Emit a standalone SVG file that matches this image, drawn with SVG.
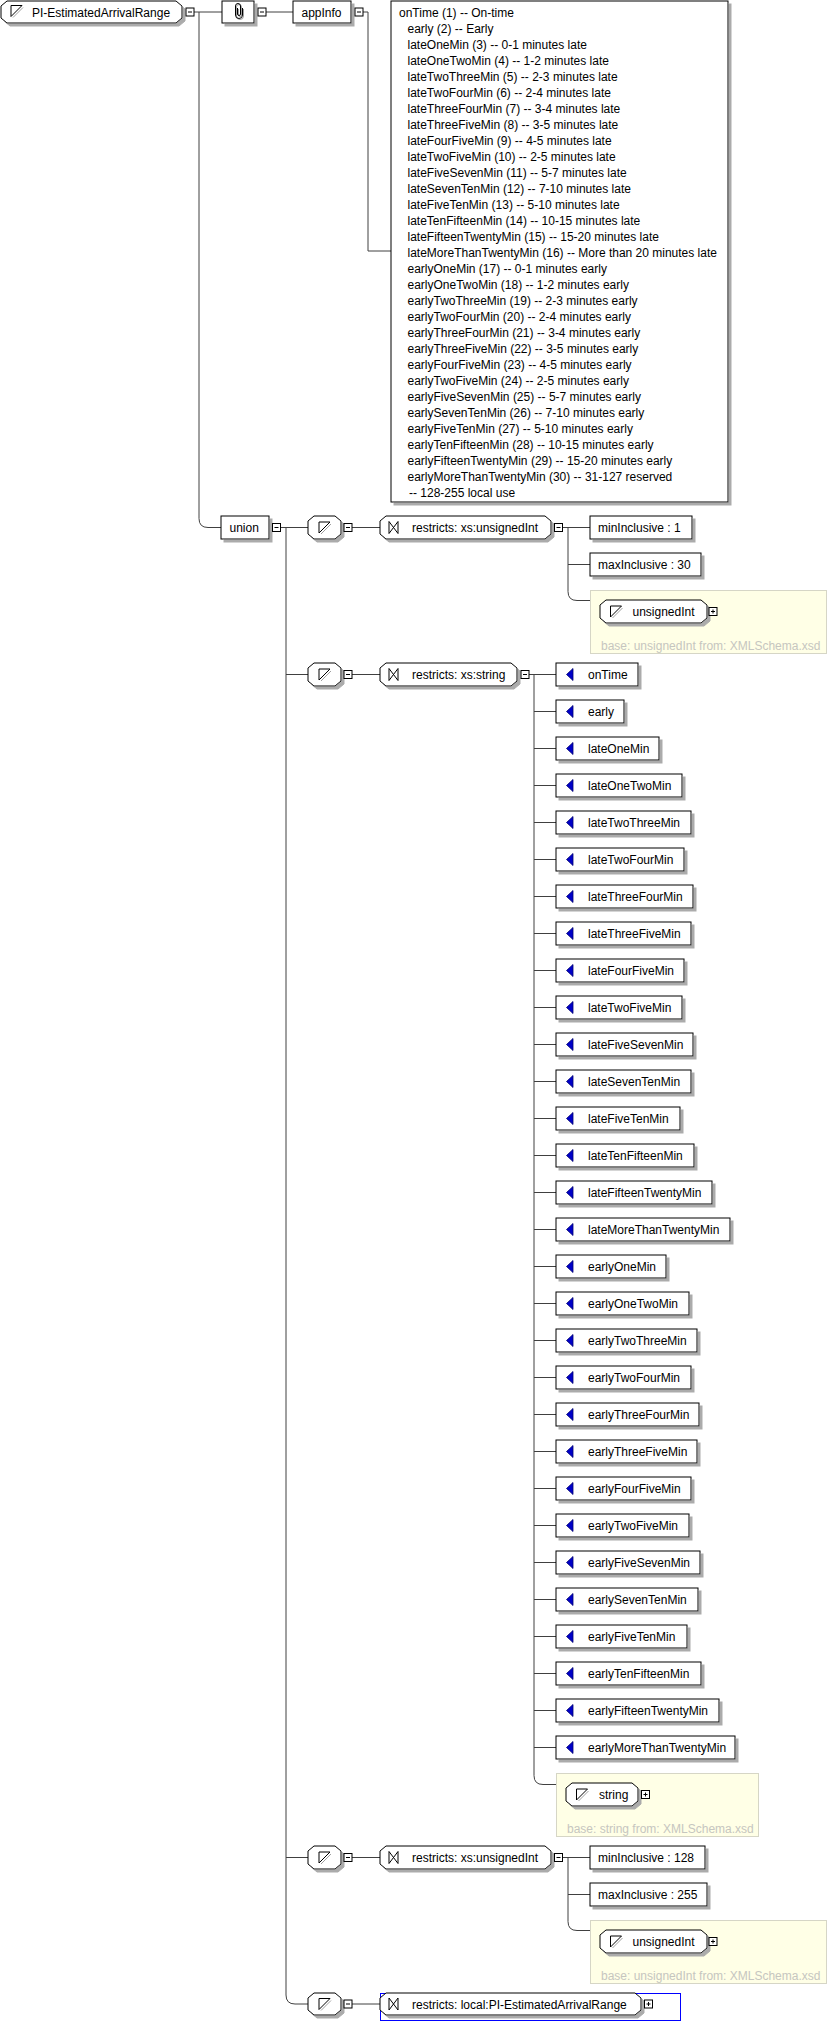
<svg xmlns="http://www.w3.org/2000/svg" xmlns:xlink="http://www.w3.org/1999/xlink" width="828" height="2022" viewBox="0 0 828 2022">
<style>
text{font-family:"Liberation Sans",Arial,sans-serif;font-size:12px;fill:#000}
.box{fill:#fff;stroke:#000;stroke-width:1;filter:url(#sh)}
.cn{fill:none;stroke:#404040;stroke-width:1}
.yl{fill:#ffffe6;stroke:#d6d6c6;stroke-width:1}
.base{fill:#c6c6c0}
</style>
<defs>
<filter id="sh" x="-10%" y="-30%" width="130%" height="170%">
<feOffset in="SourceAlpha" dx="3" dy="3" result="o"/>
<feFlood flood-color="#ababab"/>
<feComposite in2="o" operator="in" result="s"/>
<feMerge><feMergeNode in="s"/><feMergeNode in="SourceGraphic"/></feMerge>
</filter>
<g id="st"><path d="M6.5 -3.5 L-3.5 6.5" stroke="#a0a0a0" fill="none"/><path d="M-5.5 5.5 V-5.5 H5.5 Z" fill="none" stroke="#000"/></g>
<path id="rs" d="M0 -6 V6 L9 -6 V6 Z" fill="none" stroke="#000"/>
<path id="en" d="M17 5.5 L10.5 11.5 L17 17.5 Z" fill="#0000c8" stroke="#000070" stroke-width="0.8"/>
<g id="mi"><rect x="-4" y="-4" width="8" height="8" fill="#fff" stroke="#000"/><path d="M-2 0H2" stroke="#000"/></g>
<g id="pl"><rect x="-4" y="-4" width="8" height="8" fill="#fff" stroke="#000"/><path d="M-2 0H2M0 -2V2" stroke="#000"/></g>
</defs>

<g id="connectors" class="cn">
<path d="M194 12H222M199 12V518.5Q199 527.5 208 527.5H221M266 12H293M363 12H368V251H391"/>
<path d="M280.5 527.5H308M286 527.5V1995Q286 2004 295 2004H308M286 674.5H308M286 1857.5H308"/>
<path d="M352 527.5H380M352 674.5H380M352 1857.5H380M352 2004H380"/>
<path d="M562.5 527.5H590M568 527.5V591.5Q568 600.5 577 600.5H590M568 564.5H590"/>
<path d="M562.5 1857.5H590M568 1857.5V1921.5Q568 1930.5 577 1930.5H590M568 1894.5H590"/>
<path d="M529 674.5H556M534 674.5V1775.5Q534 1784.5 543 1784.5H556M534 711.5H556M534 748.5H556M534 785.5H556M534 822.5H556M534 859.5H556M534 896.5H556M534 933.5H556M534 970.5H556M534 1007.5H556M534 1044.5H556M534 1081.5H556M534 1118.5H556M534 1155.5H556M534 1192.5H556M534 1229.5H556M534 1266.5H556M534 1303.5H556M534 1340.5H556M534 1377.5H556M534 1414.5H556M534 1451.5H556M534 1488.5H556M534 1525.5H556M534 1562.5H556M534 1599.5H556M534 1636.5H556M534 1673.5H556M534 1710.5H556M534 1747.5H556"/>
</g>

<g id="root">
<polygon class="box" points="7,1 176,1 182,6 182,18 176,23 7,23 1,18 1,6"/>
<use xlink:href="#st" x="16.5" y="11"/>
<text x="32" y="16.5">PI-EstimatedArrivalRange</text>
<use xlink:href="#mi" x="190" y="12"/>
</g>

<g id="annotation">
<rect class="box" x="222" y="1" width="32" height="22"/>
<path d="M238.5 9 V15 a1.5 1.5 0 0 0 3 0 V7 a2.5 2.5 0 0 0 -5 0 V16 a3.5 3.5 0 0 0 7 0 V9" fill="none" stroke="#a0a0a0"/>
<path d="M237.5 8 V14 a1.5 1.5 0 0 0 3 0 V6 a2.5 2.5 0 0 0 -5 0 V15 a3.5 3.5 0 0 0 7 0 V8" fill="none" stroke="#000"/>
<use xlink:href="#mi" x="262" y="12"/>
</g>

<g id="appInfo">
<rect class="box" x="293" y="1" width="58" height="22"/>
<text x="301.5" y="16.5">appInfo</text>
<use xlink:href="#mi" x="359" y="12"/>
</g>

<g id="documentation">
<rect class="box" x="391" y="1" width="337" height="501"/>
<text x="399" y="16.5">onTime (1) -- On-time</text>
<text y="16.5">
<tspan x="407.5" dy="16">early (2) -- Early</tspan>
<tspan x="407.5" dy="16">lateOneMin (3) -- 0-1 minutes late</tspan>
<tspan x="407.5" dy="16">lateOneTwoMin (4) -- 1-2 minutes late</tspan>
<tspan x="407.5" dy="16">lateTwoThreeMin (5) -- 2-3 minutes late</tspan>
<tspan x="407.5" dy="16">lateTwoFourMin (6) -- 2-4 minutes late</tspan>
<tspan x="407.5" dy="16">lateThreeFourMin (7) -- 3-4 minutes late</tspan>
<tspan x="407.5" dy="16">lateThreeFiveMin (8) -- 3-5 minutes late</tspan>
<tspan x="407.5" dy="16">lateFourFiveMin (9) -- 4-5 minutes late</tspan>
<tspan x="407.5" dy="16">lateTwoFiveMin (10) -- 2-5 minutes late</tspan>
<tspan x="407.5" dy="16">lateFiveSevenMin (11) -- 5-7 minutes late</tspan>
<tspan x="407.5" dy="16">lateSevenTenMin (12) -- 7-10 minutes late</tspan>
<tspan x="407.5" dy="16">lateFiveTenMin (13) -- 5-10 minutes late</tspan>
<tspan x="407.5" dy="16">lateTenFifteenMin (14) -- 10-15 minutes late</tspan>
<tspan x="407.5" dy="16">lateFifteenTwentyMin (15) -- 15-20 minutes late</tspan>
<tspan x="407.5" dy="16">lateMoreThanTwentyMin (16) -- More than 20 minutes late</tspan>
<tspan x="407.5" dy="16">earlyOneMin (17) -- 0-1 minutes early</tspan>
<tspan x="407.5" dy="16">earlyOneTwoMin (18) -- 1-2 minutes early</tspan>
<tspan x="407.5" dy="16">earlyTwoThreeMin (19) -- 2-3 minutes early</tspan>
<tspan x="407.5" dy="16">earlyTwoFourMin (20) -- 2-4 minutes early</tspan>
<tspan x="407.5" dy="16">earlyThreeFourMin (21) -- 3-4 minutes early</tspan>
<tspan x="407.5" dy="16">earlyThreeFiveMin (22) -- 3-5 minutes early</tspan>
<tspan x="407.5" dy="16">earlyFourFiveMin (23) -- 4-5 minutes early</tspan>
<tspan x="407.5" dy="16">earlyTwoFiveMin (24) -- 2-5 minutes early</tspan>
<tspan x="407.5" dy="16">earlyFiveSevenMin (25) -- 5-7 minutes early</tspan>
<tspan x="407.5" dy="16">earlySevenTenMin (26) -- 7-10 minutes early</tspan>
<tspan x="407.5" dy="16">earlyFiveTenMin (27) -- 5-10 minutes early</tspan>
<tspan x="407.5" dy="16">earlyTenFifteenMin (28) -- 10-15 minutes early</tspan>
<tspan x="407.5" dy="16">earlyFifteenTwentyMin (29) -- 15-20 minutes early</tspan>
<tspan x="407.5" dy="16">earlyMoreThanTwentyMin (30) -- 31-127 reserved</tspan>
<tspan x="409" dy="16">-- 128-255 local use</tspan>
</text>
</g>

<g id="union">
<rect class="box" x="221" y="516" width="48" height="23"/>
<text x="229.5" y="532">union</text>
<use xlink:href="#mi" x="276.5" y="527.5"/>
</g>

<g id="simpleType1" transform="translate(0,527.5)">
<polygon class="box" points="314,-11.5 335,-11.5 341,-6.5 341,6.5 335,11.5 314,11.5 308,6.5 308,-6.5"/>
<use xlink:href="#st" x="324.5" y="0"/>
<use xlink:href="#mi" x="348" y="0"/>
</g>
<g id="simpleType2" transform="translate(0,674.5)">
<polygon class="box" points="314,-11.5 335,-11.5 341,-6.5 341,6.5 335,11.5 314,11.5 308,6.5 308,-6.5"/>
<use xlink:href="#st" x="324.5" y="0"/>
<use xlink:href="#mi" x="348" y="0"/>
</g>
<g id="simpleType3" transform="translate(0,1857.5)">
<polygon class="box" points="314,-11.5 335,-11.5 341,-6.5 341,6.5 335,11.5 314,11.5 308,6.5 308,-6.5"/>
<use xlink:href="#st" x="324.5" y="0"/>
<use xlink:href="#mi" x="348" y="0"/>
</g>
<g id="simpleType4" transform="translate(0,2004)">
<polygon class="box" points="314,-11 335,-11 341,-6 341,6 335,11 314,11 308,6 308,-6"/>
<use xlink:href="#st" x="324.5" y="0"/>
<use xlink:href="#mi" x="348" y="0"/>
</g>

<g id="restriction1" transform="translate(0,527.5)">
<polygon class="box" points="386,-11.5 545,-11.5 551,-6.5 551,6.5 545,11.5 386,11.5 380,6.5 380,-6.5"/>
<use xlink:href="#rs" x="389" y="0"/>
<text x="412" y="4.5">restricts: xs:unsignedInt</text>
<use xlink:href="#mi" x="558.5" y="0"/>
</g>
<g id="restriction2" transform="translate(0,674.5)">
<polygon class="box" points="386,-11.5 511,-11.5 517,-6.5 517,6.5 511,11.5 386,11.5 380,6.5 380,-6.5"/>
<use xlink:href="#rs" x="389" y="0"/>
<text x="412" y="4.5">restricts: xs:string</text>
<use xlink:href="#mi" x="525" y="0"/>
</g>
<g id="restriction3" transform="translate(0,1857.5)">
<polygon class="box" points="386,-11.5 545,-11.5 551,-6.5 551,6.5 545,11.5 386,11.5 380,6.5 380,-6.5"/>
<use xlink:href="#rs" x="389" y="0"/>
<text x="412" y="4.5">restricts: xs:unsignedInt</text>
<use xlink:href="#mi" x="558.5" y="0"/>
</g>
<g id="restriction4" transform="translate(0,2004)">
<rect x="380.5" y="-10.5" width="300" height="27" fill="none" stroke="#0000ff"/>
<polygon class="box" points="386,-11 635,-11 641,-6 641,6 635,11 386,11 380,6 380,-6"/>
<use xlink:href="#rs" x="389" y="0"/>
<text x="412" y="4.5">restricts: local:PI-EstimatedArrivalRange</text>
<use xlink:href="#pl" x="648.5" y="0"/>
</g>

<g id="minInclusive1"><rect class="box" x="590" y="516" width="102" height="23"/><text x="598" y="532">minInclusive : 1</text></g>
<g id="maxInclusive1"><rect class="box" x="590" y="553" width="111" height="23"/><text x="598" y="569">maxInclusive : 30</text></g>
<g id="base1">
<rect class="yl" x="590.5" y="590.5" width="236" height="63"/>
<polygon class="box" points="606,600 701,600 707,605 707,618 701,623 606,623 600,618 600,605"/>
<use xlink:href="#st" x="616" y="611.5"/>
<text x="632.5" y="616">unsignedInt</text>
<use xlink:href="#pl" x="713" y="611.5"/>
<text class="base" x="601" y="650">base: unsignedInt from: XMLSchema.xsd</text>
</g>

<g id="minInclusive3"><rect class="box" x="590" y="1846" width="115" height="23"/><text x="598" y="1862">minInclusive : 128</text></g>
<g id="maxInclusive3"><rect class="box" x="590" y="1883" width="117" height="23"/><text x="598" y="1899">maxInclusive : 255</text></g>
<g id="base3">
<rect class="yl" x="590.5" y="1920.5" width="236" height="63"/>
<polygon class="box" points="606,1930 701,1930 707,1935 707,1948 701,1953 606,1953 600,1948 600,1935"/>
<use xlink:href="#st" x="616" y="1941.5"/>
<text x="632.5" y="1946">unsignedInt</text>
<use xlink:href="#pl" x="713" y="1941.5"/>
<text class="base" x="601" y="1980">base: unsignedInt from: XMLSchema.xsd</text>
</g>

<g id="base2">
<rect class="yl" x="556.5" y="1773.5" width="202" height="63"/>
<polygon class="box" points="572,1783 632,1783 638,1788 638,1801 632,1806 572,1806 566,1801 566,1788"/>
<use xlink:href="#st" x="582" y="1794.5"/>
<text x="599" y="1799">string</text>
<use xlink:href="#pl" x="645.5" y="1794.5"/>
<text class="base" x="567" y="1832.5">base: string from: XMLSchema.xsd</text>
</g>

<g id="e-onTime" transform="translate(556,663)"><rect class="box" width="82" height="23"/><use xlink:href="#en"/><text x="32" y="16">onTime</text></g>
<g id="e-early" transform="translate(556,700)"><rect class="box" width="68" height="23"/><use xlink:href="#en"/><text x="32" y="16">early</text></g>
<g id="e-lateOneMin" transform="translate(556,737)"><rect class="box" width="103" height="23"/><use xlink:href="#en"/><text x="32" y="16">lateOneMin</text></g>
<g id="e-lateOneTwoMin" transform="translate(556,774)"><rect class="box" width="126" height="23"/><use xlink:href="#en"/><text x="32" y="16">lateOneTwoMin</text></g>
<g id="e-lateTwoThreeMin" transform="translate(556,811)"><rect class="box" width="135" height="23"/><use xlink:href="#en"/><text x="32" y="16">lateTwoThreeMin</text></g>
<g id="e-lateTwoFourMin" transform="translate(556,848)"><rect class="box" width="128" height="23"/><use xlink:href="#en"/><text x="32" y="16">lateTwoFourMin</text></g>
<g id="e-lateThreeFourMin" transform="translate(556,885)"><rect class="box" width="137" height="23"/><use xlink:href="#en"/><text x="32" y="16">lateThreeFourMin</text></g>
<g id="e-lateThreeFiveMin" transform="translate(556,922)"><rect class="box" width="135" height="23"/><use xlink:href="#en"/><text x="32" y="16">lateThreeFiveMin</text></g>
<g id="e-lateFourFiveMin" transform="translate(556,959)"><rect class="box" width="128" height="23"/><use xlink:href="#en"/><text x="32" y="16">lateFourFiveMin</text></g>
<g id="e-lateTwoFiveMin" transform="translate(556,996)"><rect class="box" width="126" height="23"/><use xlink:href="#en"/><text x="32" y="16">lateTwoFiveMin</text></g>
<g id="e-lateFiveSevenMin" transform="translate(556,1033)"><rect class="box" width="137" height="23"/><use xlink:href="#en"/><text x="32" y="16">lateFiveSevenMin</text></g>
<g id="e-lateSevenTenMin" transform="translate(556,1070)"><rect class="box" width="135" height="23"/><use xlink:href="#en"/><text x="32" y="16">lateSevenTenMin</text></g>
<g id="e-lateFiveTenMin" transform="translate(556,1107)"><rect class="box" width="124" height="23"/><use xlink:href="#en"/><text x="32" y="16">lateFiveTenMin</text></g>
<g id="e-lateTenFifteenMin" transform="translate(556,1144)"><rect class="box" width="138" height="23"/><use xlink:href="#en"/><text x="32" y="16">lateTenFifteenMin</text></g>
<g id="e-lateFifteenTwentyMin" transform="translate(556,1181)"><rect class="box" width="156" height="23"/><use xlink:href="#en"/><text x="32" y="16">lateFifteenTwentyMin</text></g>
<g id="e-lateMoreThanTwentyMin" transform="translate(556,1218)"><rect class="box" width="174" height="23"/><use xlink:href="#en"/><text x="32" y="16">lateMoreThanTwentyMin</text></g>
<g id="e-earlyOneMin" transform="translate(556,1255)"><rect class="box" width="110" height="23"/><use xlink:href="#en"/><text x="32" y="16">earlyOneMin</text></g>
<g id="e-earlyOneTwoMin" transform="translate(556,1292)"><rect class="box" width="133" height="23"/><use xlink:href="#en"/><text x="32" y="16">earlyOneTwoMin</text></g>
<g id="e-earlyTwoThreeMin" transform="translate(556,1329)"><rect class="box" width="141" height="23"/><use xlink:href="#en"/><text x="32" y="16">earlyTwoThreeMin</text></g>
<g id="e-earlyTwoFourMin" transform="translate(556,1366)"><rect class="box" width="135" height="23"/><use xlink:href="#en"/><text x="32" y="16">earlyTwoFourMin</text></g>
<g id="e-earlyThreeFourMin" transform="translate(556,1403)"><rect class="box" width="143" height="23"/><use xlink:href="#en"/><text x="32" y="16">earlyThreeFourMin</text></g>
<g id="e-earlyThreeFiveMin" transform="translate(556,1440)"><rect class="box" width="141" height="23"/><use xlink:href="#en"/><text x="32" y="16">earlyThreeFiveMin</text></g>
<g id="e-earlyFourFiveMin" transform="translate(556,1477)"><rect class="box" width="135" height="23"/><use xlink:href="#en"/><text x="32" y="16">earlyFourFiveMin</text></g>
<g id="e-earlyTwoFiveMin" transform="translate(556,1514)"><rect class="box" width="133" height="23"/><use xlink:href="#en"/><text x="32" y="16">earlyTwoFiveMin</text></g>
<g id="e-earlyFiveSevenMin" transform="translate(556,1551)"><rect class="box" width="144" height="23"/><use xlink:href="#en"/><text x="32" y="16">earlyFiveSevenMin</text></g>
<g id="e-earlySevenTenMin" transform="translate(556,1588)"><rect class="box" width="142" height="23"/><use xlink:href="#en"/><text x="32" y="16">earlySevenTenMin</text></g>
<g id="e-earlyFiveTenMin" transform="translate(556,1625)"><rect class="box" width="131" height="23"/><use xlink:href="#en"/><text x="32" y="16">earlyFiveTenMin</text></g>
<g id="e-earlyTenFifteenMin" transform="translate(556,1662)"><rect class="box" width="145" height="23"/><use xlink:href="#en"/><text x="32" y="16">earlyTenFifteenMin</text></g>
<g id="e-earlyFifteenTwentyMin" transform="translate(556,1699)"><rect class="box" width="163" height="23"/><use xlink:href="#en"/><text x="32" y="16">earlyFifteenTwentyMin</text></g>
<g id="e-earlyMoreThanTwentyMin" transform="translate(556,1736)"><rect class="box" width="179" height="23"/><use xlink:href="#en"/><text x="32" y="16">earlyMoreThanTwentyMin</text></g>
</svg>
